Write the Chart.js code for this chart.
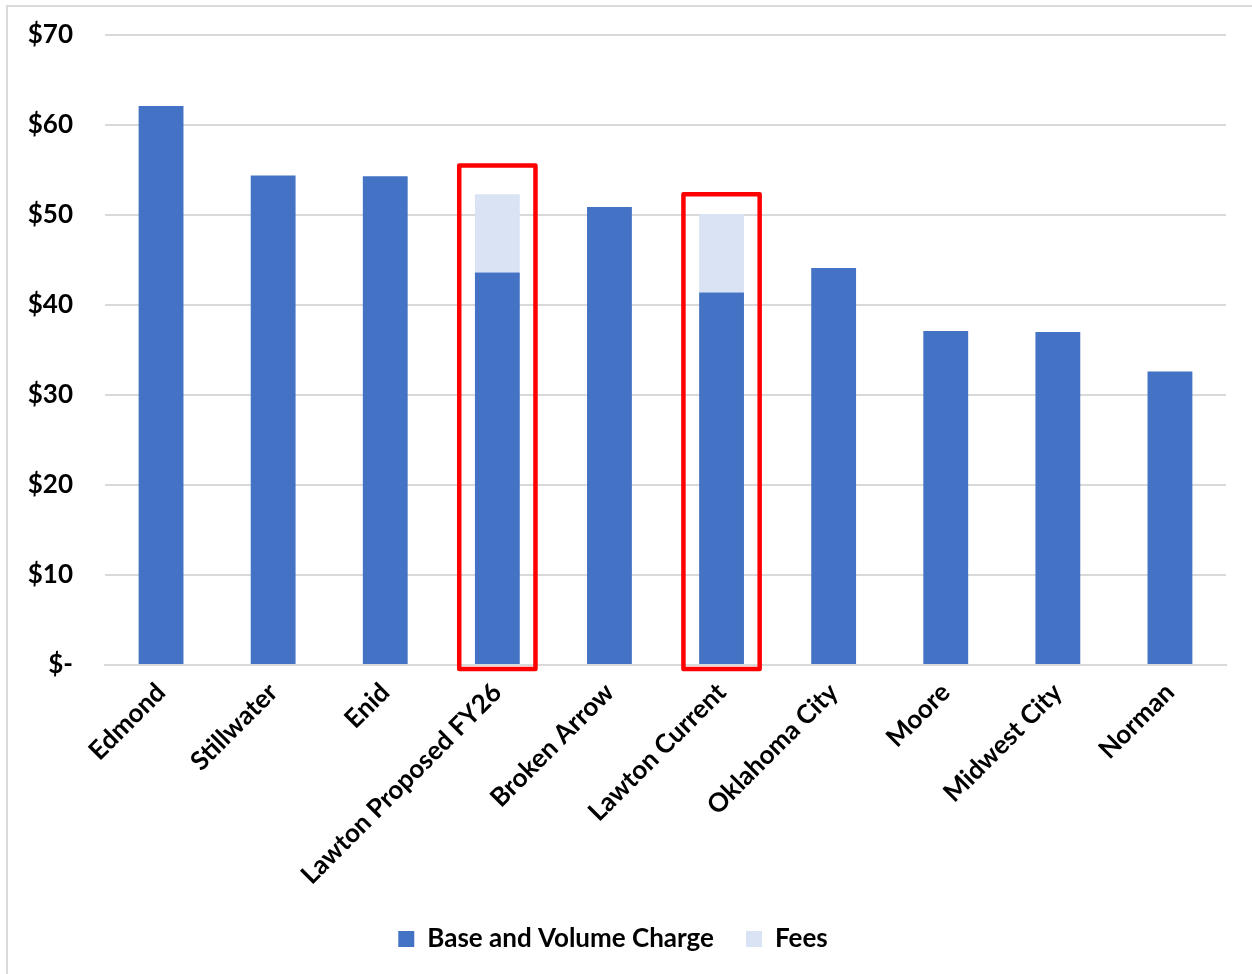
<!DOCTYPE html>
<html>
<head>
<meta charset="utf-8">
<script src="https://cdn.jsdelivr.net/npm/chart.js@4"></script>
<style>
  html, body { margin: 0; padding: 0; background: #fff; }
  #wrap { position: relative; width: 1252px; height: 974px; }
  #frame { position: absolute; left: 6px; top: 5px; right: -4px; bottom: -4px; border-left: 2px solid #d9d9d9; border-top: 2px solid #d9d9d9; }
  canvas { position: absolute; left: 0; top: 0; }
</style>
</head>
<body>
<div id="wrap">
  <div id="frame"></div>
  <canvas id="rateChart" width="1252" height="974"></canvas>
</div>
<script>
const cities = ["Edmond", "Stillwater", "Enid", "Lawton Proposed FY26", "Broken Arrow",
  "Lawton Current", "Oklahoma City", "Moore", "Midwest City", "Norman"];
const baseCharge = [62.1, 54.4, 54.3, 43.6, 50.9, 41.4, 44.1, 37.1, 37.0, 32.6];
const fees = [0, 0, 0, 8.7, 0, 8.7, 0, 0, 0, 0];
// boxes drawn around the Lawton columns (category index, top in $)
const highlighted = [3, 5];
const highlightTop = [55.5, 52.3];

const labelFont = { family: "Lato, 'Open Sans', sans-serif", size: 26, weight: "bold" };

const highlightBoxes = {
  id: "highlightBoxes",
  afterDatasetsDraw(chart) {
    const ctx = chart.ctx;
    const x = chart.scales.x, y = chart.scales.y;
    const w = x.width / cities.length * 0.68;
    ctx.save();
    ctx.strokeStyle = "#ff0000";
    ctx.lineWidth = 4.5;
    ctx.lineJoin = "round";
    highlighted.forEach((idx, i) => {
      const cx = x.getPixelForValue(idx);
      const top = y.getPixelForValue(highlightTop[i]);
      const bottom = y.getPixelForValue(0) + 4;
      ctx.strokeRect(cx - w / 2, top, w, bottom - top);
    });
    ctx.restore();
  }
};

new Chart(document.getElementById("rateChart"), {
  type: "bar",
  data: {
    labels: cities,
    datasets: [
      { label: "Base and Volume Charge", data: baseCharge, backgroundColor: "#4472c4" },
      { label: "Fees", data: fees, backgroundColor: "#dae3f3" }
    ]
  },
  options: {
    responsive: false,
    animation: false,
    layout: { padding: { top: 35, right: 26, bottom: 12, left: 0 } },
    datasets: { bar: { categoryPercentage: 1, barPercentage: 0.4 } },
    scales: {
      x: {
        stacked: true,
        grid: { display: false },
        border: { color: "#d9d9d9", width: 2 },
        ticks: { color: "#000", font: labelFont, minRotation: 45, maxRotation: 45, padding: 4 },
        afterFit(scale) { scale.height = 229; }
      },
      y: {
        stacked: true,
        min: 0,
        max: 70,
        grid: { color: "#d9d9d9", lineWidth: 2, drawTicks: false },
        border: { display: false },
        ticks: {
          stepSize: 10,
          color: "#000",
          font: labelFont,
          padding: 32,
          callback: v => v === 0 ? "$-" : "$" + v
        },
        afterFit(scale) {
          scale.width = 105;
          scale.paddingTop = 0;
          scale.paddingBottom = 0;
        }
      }
    },
    plugins: {
      tooltip: { enabled: false },
      legend: {
        position: "bottom",
        labels: { color: "#000", font: labelFont, boxWidth: 16, boxHeight: 16, padding: 32 }
      }
    }
  },
  plugins: [highlightBoxes]
});
</script>
</body>
</html>
